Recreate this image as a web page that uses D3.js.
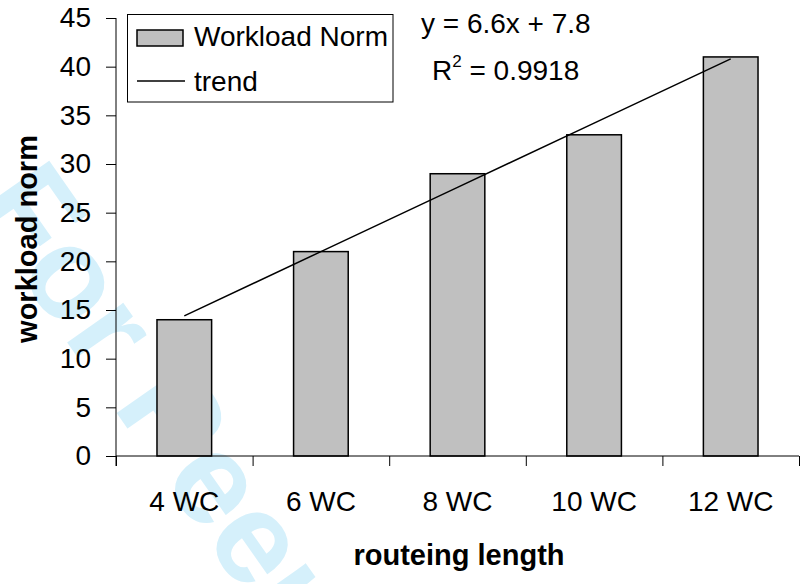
<!DOCTYPE html>
<html>
<head>
<meta charset="utf-8">
<script src="https://cdn.jsdelivr.net/npm/d3@7"></script>
<style>
  html, body { margin: 0; padding: 0; background: #fff; }
  svg { display: block; font-family: "Liberation Sans", Arial, sans-serif; }
</style>
</head>
<body>
<svg id="chart" width="803" height="584"></svg>
<script>
// ---- data ----
const categories = ["4 WC", "6 WC", "8 WC", "10 WC", "12 WC"];
const workloadNorm = [14, 21, 29, 33, 41];
const trendValues = [14.4, 21.0, 27.6, 34.2, 40.8];   // y = 6.6x + 7.8
const yTicks = [0, 5, 10, 15, 20, 25, 30, 35, 40, 45];
const equationText = "y = 6.6x + 7.8";
const r2Value = "0.9918";
const legendLabels = ["Workload Norm", "trend"];

// ---- layout ----
const svg = d3.select("#chart");
const plotL = 116, plotR = 799, plotT = 18, plotB = 456;

// watermark
svg.append("text")
  .attr("transform", "translate(-29,205) rotate(55)")
  .attr("font-size", 130)
  .attr("font-weight", "bold")
  .attr("fill", "#d5f0fb")
  .text("For Peer Review");

const x = d3.scaleBand().domain(categories).range([plotL, plotR])
  .paddingInner(0.6).paddingOuter(0.3);
const y = d3.scaleLinear().domain([0, 45]).range([plotB, plotT]);

// bars
svg.append("g").selectAll("rect").data(categories).join("rect")
  .attr("x", d => x(d))
  .attr("y", (d, i) => y(workloadNorm[i]))
  .attr("width", x.bandwidth())
  .attr("height", (d, i) => y(0) - y(workloadNorm[i]))
  .attr("fill", "#c0c0c0")
  .attr("stroke", "#000")
  .attr("stroke-width", 1.5);

// y axis
const yAxis = svg.append("g").attr("transform", `translate(${plotL},0)`)
  .call(d3.axisLeft(y).tickValues(yTicks).tickSize(10).tickPadding(15));
yAxis.select(".domain").remove();
yAxis.append("line").attr("x1", 0).attr("x2", 0).attr("y1", plotT).attr("y2", plotB + 10).attr("stroke", "#000");
yAxis.selectAll("text").attr("font-size", 28).attr("font-family", "Liberation Sans, Arial, sans-serif").attr("fill", "#000");

// x axis boundary ticks
const xb = d3.scaleLinear().domain([0, categories.length]).range([plotL, plotR]);
const xAxisB = svg.append("g").attr("transform", `translate(0,${plotB})`)
  .call(d3.axisBottom(xb).tickValues(d3.range(categories.length + 1)).tickSize(10).tickFormat(""));
xAxisB.select(".domain").attr("d", `M${plotL},0H${plotR}`);

// x labels
const xAxisL = svg.append("g").attr("transform", `translate(0,${plotB})`)
  .call(d3.axisBottom(x).tickSize(0).tickPadding(35));
xAxisL.select(".domain").remove();
xAxisL.selectAll("text").attr("font-size", 28).attr("font-family", "Liberation Sans, Arial, sans-serif").attr("fill", "#000");

// trend line
const line = d3.line().x((d, i) => x(categories[i]) + x.bandwidth() / 2).y(d => y(d));
svg.append("path").datum(trendValues)
  .attr("d", line).attr("fill", "none").attr("stroke", "#000").attr("stroke-width", 1.5);

// axis titles
svg.append("text").attr("x", 459).attr("y", 565).attr("text-anchor", "middle")
  .attr("font-size", 29).attr("font-weight", "bold").text("routeing length");
svg.append("text").attr("transform", "translate(37,239) rotate(-90)").attr("text-anchor", "middle")
  .attr("font-size", 29).attr("font-weight", "bold").text("workload norm");

// legend
const lg = svg.append("g");
lg.append("rect").attr("x", 127.5).attr("y", 14.5).attr("width", 265.5).attr("height", 87.5)
  .attr("fill", "#fff").attr("stroke", "#000").attr("stroke-width", 1);
lg.append("rect").attr("x", 137).attr("y", 30).attr("width", 46).attr("height", 16)
  .attr("fill", "#c0c0c0").attr("stroke", "#000").attr("stroke-width", 1.5);
lg.append("text").attr("x", 194).attr("y", 46).attr("font-size", 28).text(legendLabels[0]);
lg.append("line").attr("x1", 137).attr("x2", 185).attr("y1", 81).attr("y2", 81)
  .attr("stroke", "#000").attr("stroke-width", 1.5);
lg.append("text").attr("x", 194).attr("y", 91).attr("font-size", 28).text(legendLabels[1]);

// equation
svg.append("text").attr("x", 421).attr("y", 33).attr("font-size", 28).text(equationText);
const r2 = svg.append("text").attr("x", 432).attr("y", 80).attr("font-size", 28);
r2.append("tspan").text("R");
r2.append("tspan").attr("font-size", 17).attr("dy", -13).text("2");
r2.append("tspan").attr("dy", 13).text(" = " + r2Value);
</script>
</body>
</html>
